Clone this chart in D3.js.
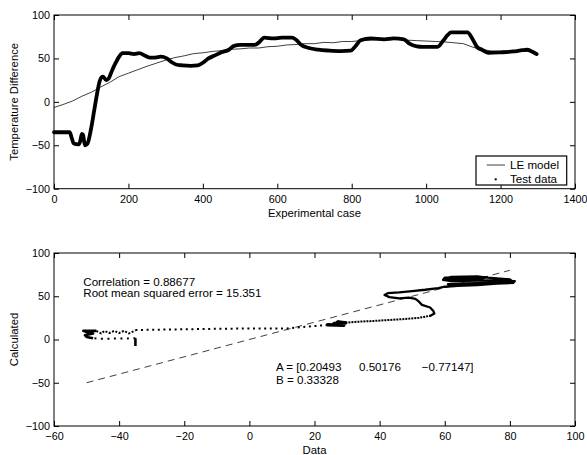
<!DOCTYPE html>
<html><head><meta charset="utf-8">
<script src="https://cdn.jsdelivr.net/npm/d3@7"></script>
<style>
html,body{margin:0;padding:0;background:#fff;}
svg{display:block;font-family:"Liberation Sans",Arial,Helvetica,sans-serif;}
</style></head>
<body>
<svg id="chart" width="587" height="455"></svg>
<script>
// ---- Data ----
const topXTicks = [0,200,400,600,800,1000,1200,1400];
const topYTicks = [-100,-50,0,50,100];
const botXTicks = [-60,-40,-20,0,20,40,60,80,100];
const botYTicks = [-100,-50,0,50,100];

// LE model (thin line)
const modelCase = [0,25,50,75,100,125,150,175,200,225,250,275,300,325,350,375,400,425,450,475,500,525,550,575,600,625,650,675,700,725,750,775,800,825,850,875,900,925,950,975,1000,1025,1050,1075,1100,1125,1150,1175,1200,1225,1250,1275,1300];
const modelValue = [-6.5,-3,1,6.5,11,17,22.5,29,33,37,41,44.5,48,51,53,55.5,56.5,58,59,60.5,61,62,62,63.5,64,65.5,66,67,67,68.5,68,69.5,69.5,70.5,71,72,71.5,72,71,70.5,70,69.5,69,68,67,63,60.5,58.5,58,59,59,58.5,56];

// Test data (thick marker trace)
const testCase = [0,42,48,53,65,70,75,78,83,90,100,108,116,121,127,132,140,147,153,160,167,175,184,200,215,229,245,258,272,287,303,315,328,345,368,386,400,415,430,450,470,484,500,520,540,552,565,590,612,640,652,663,685,710,740,770,797,810,824,851,887,913,940,955,975,991,1031,1045,1058,1067,1090,1111,1125,1137,1150,1168,1200,1235,1259,1271,1284,1297];
const testValue = [-35,-35,-42,-48,-49,-46,-37,-38,-50,-48,-30,-10,10,21,28,29,25,27,33,40,46,52,56,56,55,56,53,51,51,52,50,46,43,42,41.5,42,45,50,53,57,60,64.5,65.5,65.5,65.5,69,74,73,74,74,71,66,62,60,59,58.5,59,64,71,73,72,73,72,67,64,63.4,63.4,70,77,80,80,80,72,63,60,56.5,57,58,59.5,60,58,55];

// Calculated vs Data scatter trace, read in order
const stemData   = [-35,-35,-35];
const stemCalc   = [-7.5,-3,1.5];
const lowData    = [-35,-38,-42,-46,-48];
const lowCalc    = [1.5,1.2,1,1,1.5];
const knotData   = [-48,-50,-50.5,-48,-50,-51,-47];
const knotCalc   = [1.5,3,5,7,8.5,10,10];
const wiggleData = [-47,-45.5,-44.5,-43,-41.5,-40,-38.5,-37,-35];
const wiggleCalc = [10,7,10,7.5,10,7.5,10,7,10.5];
const sparseData = [-35,-20,-8,5,11.5,18,25];
const sparseCalc = [11,11.8,12.5,12.8,12.7,15,17];
const blobData   = [24,29,26,29.5,27,29.5];
const blobCalc   = [17,16.5,18.5,19,20,19.5];
const riseData   = [29.5,33,37,47,52,55.6];
const riseCalc   = [19.5,20.5,21.2,23.5,25,27.5];
const loopData   = [55.6,56.8,56.5,55.5,53,52,51,49,46,43,41.5,42.5,46,50,54,58,60,64,70,76,81,81.5,78,70,62,59.5,60,66,73,71,64,60,62,70,73,80,81,74,66,61];
const loopCalc   = [27.5,30,33,37,40,44,47,48.5,47.5,49,51.5,53.5,54.5,56,57.5,59.5,61,62,63,64.5,65.5,67.5,68.5,68,67.5,69,71.5,72.5,72,70,70,70.5,72.5,73,71.5,69.5,66.5,65.5,65,64];

const refLine = [-50,80];

const statLines = ["Correlation = 0.88677","Root mean squared error = 15.351"];
const coefA = ["A = [0.20493","0.50176","\u22120.77147]"];
const coefB = "B = 0.33328";

// ---- Drawing ----
const svg = d3.select("#chart");
svg.append("rect").attr("width",587).attr("height",455).attr("fill","#fff");

const xTop = d3.scaleLinear([0,1400],[54,575]);
const yTop = d3.scaleLinear([-100,100],[188.7,15]);
const xBot = d3.scaleLinear([-60,100],[54,575]);
const yBot = d3.scaleLinear([-100,100],[426,253]);

const FS = 10.8, TS = 11.6;
function frame(x, y, xt, yt){
  const [x0,x1] = x.range(), [y1,y0] = y.range();
  const g = svg.append("g");
  const fmt = d3.format("");
  const cleanup = s => { s.select(".domain").remove(); s.selectAll(".tick line").attr("stroke","#000"); s.selectAll("text").attr("font-size",FS).attr("fill","#000").attr("font-family",'"Liberation Sans",Arial,sans-serif'); };
  g.append("g").attr("transform",`translate(0,${y1})`)
    .call(d3.axisBottom(x).tickValues(xt).tickSizeInner(-5).tickSizeOuter(0).tickPadding(6.8).tickFormat(fmt)).call(cleanup);
  g.append("g").attr("transform",`translate(0,${y0})`)
    .call(d3.axisTop(x).tickValues(xt).tickSizeInner(-5).tickSizeOuter(0).tickFormat("")).call(cleanup);
  g.append("g").attr("transform",`translate(${x0},0)`)
    .call(d3.axisLeft(y).tickValues(yt).tickSizeInner(-5).tickSizeOuter(0).tickPadding(4).tickFormat(fmt)).call(cleanup);
  g.append("g").attr("transform",`translate(${x1},0)`)
    .call(d3.axisRight(y).tickValues(yt).tickSizeInner(-5).tickSizeOuter(0).tickFormat("")).call(cleanup);
  g.append("rect").attr("x",x0).attr("y",y0).attr("width",x1-x0).attr("height",y1-y0)
    .attr("fill","none").attr("stroke","#000").attr("stroke-width",1);
  return g;
}

// ---- Top panel ----
const topLine = d3.line().x(d=>xTop(d[0])).y(d=>yTop(d[1]));
svg.append("path").datum(modelCase.map((c,i)=>[c,modelValue[i]]))
  .attr("d",topLine).attr("fill","none").attr("stroke","#000").attr("stroke-width",0.75);
svg.append("path").datum(testCase.map((c,i)=>[c,testValue[i]]))
  .attr("d",topLine.curve(d3.curveMonotoneX)).attr("fill","none").attr("stroke","#000")
  .attr("stroke-width",3.8).attr("stroke-linejoin","round").attr("stroke-linecap","round");
frame(xTop,yTop,topXTicks,topYTicks);

svg.append("text").attr("transform","translate(17.5,101.8) rotate(-90)").attr("text-anchor","middle")
  .attr("font-size",11.3).text("Temperature Difference");
svg.append("text").attr("x",314.5).attr("y",217).attr("text-anchor","middle").attr("font-size",11.3).text("Experimental case");

// legend
const lg = svg.append("g");
lg.append("rect").attr("x",476).attr("y",156).attr("width",90.7).attr("height",29)
  .attr("fill","#fff").attr("stroke","#000").attr("stroke-width",1.2);
lg.append("line").attr("x1",486.7).attr("x2",505).attr("y1",165).attr("y2",165).attr("stroke","#000").attr("stroke-width",0.75);
lg.append("rect").attr("x",494.7).attr("y",178.3).attr("width",2).attr("height",2).attr("fill","#000");
lg.append("text").attr("x",510).attr("y",169).attr("font-size",TS).text("LE model");
lg.append("text").attr("x",510).attr("y",182.5).attr("font-size",TS).text("Test data");

// ---- Bottom panel ----
const bl = d3.line().x(d=>xBot(d[0])).y(d=>yBot(d[1]));
const zip = (a,b)=>a.map((v,i)=>[v,b[i]]);
svg.append("path").datum(refLine.map(v=>[v,v])).attr("d",bl).attr("fill","none")
  .attr("stroke","#000").attr("stroke-width",0.75).attr("stroke-dasharray","7,5");

function trace(xs, ys, w, dash){
  const p = svg.append("path").datum(zip(xs,ys)).attr("d",bl).attr("fill","none")
    .attr("stroke","#000").attr("stroke-width",w).attr("stroke-linejoin","round");
  if(dash) p.attr("stroke-dasharray",dash);
  return p;
}
trace(stemData,stemCalc,2.6,null);
trace(lowData,lowCalc,2,"2,4.5");
trace(knotData,knotCalc,2.6,null);
trace(wiggleData,wiggleCalc,2,"2,1.6");
trace(sparseData,sparseCalc,2,"2,3.6");
trace(blobData,blobCalc,3.4,null).attr("stroke-linecap","round");
trace(riseData,riseCalc,2,"2,1");
trace(loopData,loopCalc,2.3,null).attr("stroke-linecap","round");

frame(xBot,yBot,botXTicks,botYTicks);

svg.append("text").attr("transform","translate(17.5,339.5) rotate(-90)").attr("text-anchor","middle")
  .attr("font-size",11.3).text("Calculated");
svg.append("text").attr("x",314.5).attr("y",453.5).attr("text-anchor","middle").attr("font-size",11.3).text("Data");

const st = svg.append("text").attr("font-size",TS);
statLines.forEach((s,i)=>st.append("tspan").attr("x",xBot(-51)).attr("y",285.5+i*11.7).text(s));
const coefX = [276, 359, 421.7];
coefA.forEach((s,i)=>svg.append("text").attr("font-size",TS).attr("x",coefX[i]).attr("y",370.5).text(s));
svg.append("text").attr("font-size",TS).attr("x",276).attr("y",383.5).text(coefB);
</script>
</body></html>
